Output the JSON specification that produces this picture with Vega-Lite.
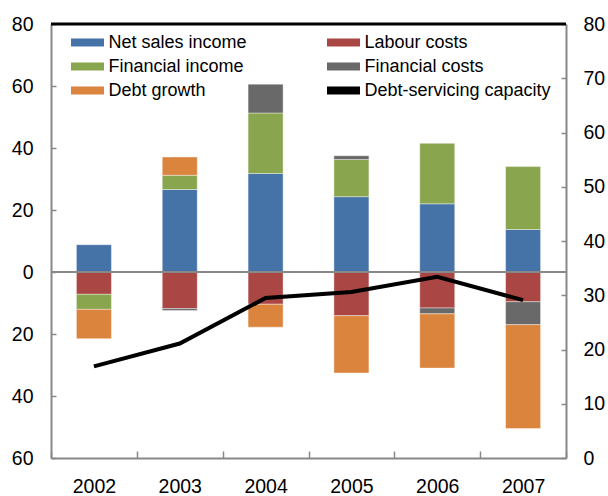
{
  "$schema": "https://vega.github.io/schema/vega-lite/v6.json",
  "autosize": {"type": "none"},
  "width": 515,
  "height": 434,
  "padding": {"left": 51, "top": 24, "right": 42, "bottom": 38},
  "config": {
    "font": "Liberation Sans",
    "view": {"stroke": null},
    "axis": {"labelColor": "#000000", "labelFontSize": 19.5, "labelFont": "Liberation Sans", "domainColor": "#888888", "domainWidth": 2, "tickColor": "#888888", "tickWidth": 1.5, "grid": false, "title": null}
  },
  "datasets": {
    "bars": [
      {"year": "2002", "series": "Net sales income", "value": 8.8, "k": 1},
      {"year": "2002", "series": "Labour costs", "value": -7.2, "k": 2},
      {"year": "2002", "series": "Financial income", "value": -4.85, "k": 3},
      {"year": "2002", "series": "Debt growth", "value": -9.45, "k": 5},
      {"year": "2003", "series": "Net sales income", "value": 26.6, "k": 1},
      {"year": "2003", "series": "Labour costs", "value": -11.8, "k": 2},
      {"year": "2003", "series": "Financial income", "value": 4.6, "k": 3},
      {"year": "2003", "series": "Financial costs", "value": -0.6, "k": 4},
      {"year": "2003", "series": "Debt growth", "value": 5.9, "k": 5},
      {"year": "2004", "series": "Net sales income", "value": 31.8, "k": 1},
      {"year": "2004", "series": "Labour costs", "value": -10.4, "k": 2},
      {"year": "2004", "series": "Financial income", "value": 19.5, "k": 3},
      {"year": "2004", "series": "Financial costs", "value": 9.3, "k": 4},
      {"year": "2004", "series": "Debt growth", "value": -7.4, "k": 5},
      {"year": "2005", "series": "Net sales income", "value": 24.3, "k": 1},
      {"year": "2005", "series": "Labour costs", "value": -14.1, "k": 2},
      {"year": "2005", "series": "Financial income", "value": 12.0, "k": 3},
      {"year": "2005", "series": "Financial costs", "value": 1.2, "k": 4},
      {"year": "2005", "series": "Debt growth", "value": -18.5, "k": 5},
      {"year": "2006", "series": "Net sales income", "value": 22.0, "k": 1},
      {"year": "2006", "series": "Labour costs", "value": -11.6, "k": 2},
      {"year": "2006", "series": "Financial income", "value": 19.5, "k": 3},
      {"year": "2006", "series": "Financial costs", "value": -1.9, "k": 4},
      {"year": "2006", "series": "Debt growth", "value": -17.5, "k": 5},
      {"year": "2007", "series": "Net sales income", "value": 13.7, "k": 1},
      {"year": "2007", "series": "Labour costs", "value": -9.6, "k": 2},
      {"year": "2007", "series": "Financial income", "value": 20.3, "k": 3},
      {"year": "2007", "series": "Financial costs", "value": -7.4, "k": 4},
      {"year": "2007", "series": "Debt growth", "value": -33.5, "k": 5}
    ],
    "line": [
      {"year": "2002", "value": 16.9},
      {"year": "2003", "value": 21.1},
      {"year": "2004", "value": 29.5},
      {"year": "2005", "value": 30.6},
      {"year": "2006", "value": 33.4},
      {"year": "2007", "value": 29.1}
    ]
  },
  "layer": [
    {
      "layer": [
        {
          "data": {"name": "bars"},
          "mark": {"type": "bar", "size": 35, "stroke": "#ffffff", "strokeWidth": 0.8, "strokeOpacity": 0.5},
          "encoding": {
            "x": {
              "field": "year", "type": "nominal",
              "scale": {"paddingInner": 0, "paddingOuter": 0},
              "axis": {"labelAngle": 0, "tickBand": "extent", "tickSize": -7, "labelPadding": 26}
            },
            "y": {
              "field": "value", "type": "quantitative", "stack": "zero",
              "scale": {"domain": [-60, 80], "nice": false, "zero": false},
              "axis": {"values": [-60, -40, -20, 0, 20, 40, 60, 80], "labelExpr": "abs(datum.value)", "tickSize": -5, "labelPadding": 23}
            },
            "color": {
              "field": "series", "type": "nominal",
              "scale": {
                "domain": ["Net sales income", "Financial income", "Debt growth", "Labour costs", "Financial costs", "Debt-servicing capacity"],
                "range": ["#4572A7", "#89A54E", "#DB843D", "#AA4643", "#696969", "#000000"]
              },
              "legend": {
                "orient": "none", "legendX": 20, "legendY": 9.5, "columns": 2, "title": null,
                "labelFontSize": 18, "labelColor": "#000000", "labelFont": "Liberation Sans", "labelLimit": 400,
                "symbolType": "M-3.3,-0.8H3.3V0.8H-3.3Z",
                "symbolSize": 100, "symbolStrokeWidth": 0, "symbolOffset": 7.5, "labelOffset": 12,
                "columnPadding": 80, "rowPadding": 6, "padding": 0, "symbolOpacity": 1,
                "encode": {
                  "symbols": {
                    "shape": {"value": {"expr": "datum.value === 'Debt-servicing capacity' ? 'M-3.3,-0.3H3.3V0.3H-3.3Z' : 'M-3.3,-0.8H3.3V0.8H-3.3Z'"}}
                  }
                }
              }
            },
            "order": {"field": "k", "type": "quantitative"}
          }
        },
        {
          "data": {"values": [{}]},
          "mark": {"type": "rule", "color": "#888888", "strokeWidth": 2},
          "encoding": {"y": {"datum": 0}}
        },
        {
          "data": {"values": [{}]},
          "mark": {"type": "rule", "color": "#000000", "strokeWidth": 3},
          "encoding": {"y": {"datum": 80}}
        }
      ]
    },
    {
      "data": {"name": "line"},
      "mark": {"type": "line", "strokeWidth": 4},
      "encoding": {
        "x": {"field": "year", "type": "nominal"},
        "y": {
          "field": "value", "type": "quantitative",
          "scale": {"domain": [0, 80], "nice": false},
          "axis": {"orient": "right", "values": [0, 10, 20, 30, 40, 50, 60, 70, 80], "tickSize": -5, "labelPadding": 22}
        },
        "color": {"datum": "Debt-servicing capacity", "legend": null}
      }
    }
  ],
  "resolve": {"scale": {"y": "independent"}}
}
